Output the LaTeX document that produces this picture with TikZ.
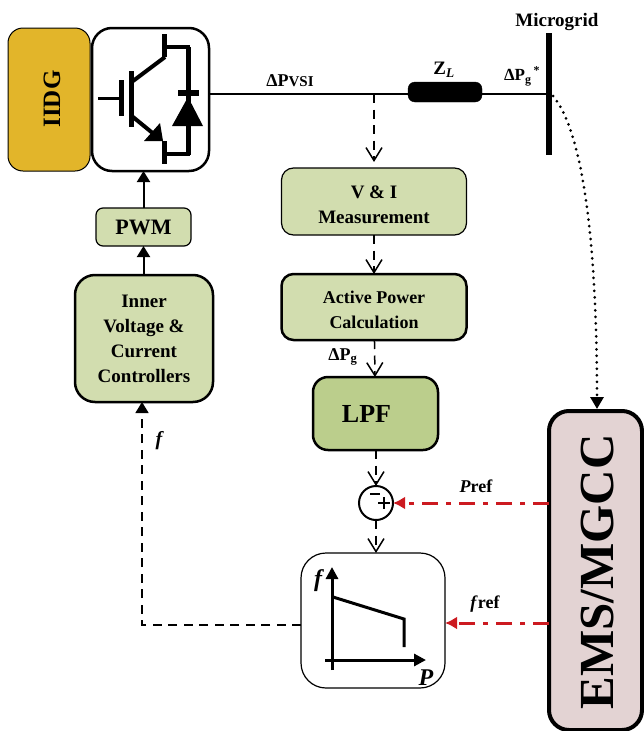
\documentclass[tikz,border=0pt]{standalone}
\usepackage{fontspec}
\setmainfont{Liberation Serif}
\usetikzlibrary{arrows.meta}
\tikzset{
  block/.style={draw,rounded corners=#1,inner sep=0,outer sep=0,align=center,font=\fontsize{19}{25}\selectfont\bfseries},
  block/.default=12,
  lab/.style={inner sep=0,font=\fontsize{18}{20}\selectfont\bfseries},
  dashline/.style={line width=1.5,dash pattern=on 9pt off 6.5pt,-{Straight Barb[length=13pt,width=16pt,line width=1.5pt]}},
  solidline/.style={line width=2,-{Stealth[length=11pt,width=13pt,inset=0pt]}},
  redline/.style={c3,line width=3,dash pattern=on 16pt off 8pt on 5pt off 8pt,-{Latex[length=12pt,width=13pt]}},
}
\begin{document}
\begin{tikzpicture}[x=1pt,y=-1pt]
    \definecolor{c1}{HTML}{D2DDAF}
    \definecolor{c2}{HTML}{BBCE8C}
    \definecolor{c3}{HTML}{CC1A20}
    \definecolor{c4}{HTML}{E3D3D3}
    \definecolor{c5}{HTML}{E2B52A}

    \useasboundingbox (0,0) rectangle (643,731);

    \node[block=15,line width=1,fill=c5,minimum width=82,minimum height=143] (iidg) at (49,99.5) {};
    \node[rotate=90,inner sep=0,font=\fontsize{25}{25}\selectfont\bfseries] (iidgtext) at (52,99) {IIDG};
    \node[block=20,line width=2.5,minimum width=117,minimum height=143] (inverter) at (150.5,99.5) {};

    %% switch
    \draw[line width=3] (98,98) -- (121,98);
    \draw[line width=5] (121,80) -- (121,116);
    \draw[line width=5] (131,71) -- (131,127);
    \draw[line width=4] (133,81) -- (165,57);
    \draw[line width=5] (164,34) -- (164,57);
    \draw[line width=4] (165,47) -- (190,47);
    \draw[line width=5] (188,47) -- (188,155);
    \draw[line width=6] (178,93) -- (199,93);
    \fill (188,97) -- (203,126) -- (172,126) -- cycle;
    \draw[line width=4] (165,154) -- (190,154);
    \draw[line width=5] (164,141) -- (164,164);
    \draw[line width=4] (133,117) -- (155,135);
    \fill (160,123) -- (163,141) -- (144,141) -- cycle;

    \node[block=7,fill=black,minimum width=74,minimum height=20] (zl) at (445,92) {};
    \node[fill=black,inner sep=0,minimum width=6,minimum height=122] (bus) at (549,94) {};
    \coordinate (tap) at (374,94);
    \coordinate (busdot) at (553,96);

    \node[lab,font=\fontsize{19}{20}\selectfont\bfseries] (microgrid) at (557,22) {Microgrid};
    \node[lab,font=\fontsize{19}{20}\selectfont\bfseries] (zlabel) at (444,70) {Z\textsubscript{\textit{L}}};
    \node[lab,font=\fontsize{17}{18}\selectfont\bfseries] (pgstar) at (522,76) {ΔP\textsubscript{g}\textsuperscript{\,*}};
    \node[lab] (pvsi) at (290,81) {ΔP{\fontsize{15}{15}\selectfont VSI}};

    \draw[line width=2] (inverter.east |- tap) -- (zl.west |- tap);
    \draw[line width=2] (zl.east |- bus) -- (bus);

    \node[block,line width=1.2,fill=c1,minimum width=185,minimum height=67] (vi) at (374,201.5) {\rule{0pt}{19pt}V \& I\\Measurement};
    \node[block,line width=2.5,fill=c1,minimum width=185,minimum height=66,font=\fontsize{18}{25}\selectfont\bfseries] (power) at (374,307) {\rule{0pt}{18pt}Active Power\\Calculation};
    \node[block=15,line width=2.5,fill=c2,minimum width=125,minimum height=73,font=\fontsize{26}{26}\selectfont\bfseries] (lpf) at (375.5,413.5) {LPF\hspace{18pt}};
    \node[draw,circle,line width=2,minimum size=34,inner sep=0,outer sep=0] (sum) at (376,503) {};
    \draw[line width=2.5] (370,494) -- (380,494);
    \draw[line width=2.5] (378,503) -- (390,503);
    \draw[line width=2.5] (384,497) -- (384,509);
    \node[block=25,line width=1.2,minimum width=144,minimum height=135] (droop) at (373,620.5) {};

    \node[block=20,line width=2.5,fill=c1,minimum width=138,minimum height=127] (inner) at (144,338.5) {Inner\\Voltage \&\\Current\\Controllers};
    \node[block=7,line width=1.2,fill=c1,minimum width=95,minimum height=38,font=\fontsize{22}{22}\selectfont\bfseries] (pwm) at (143.5,227) {PWM};
    \node[block=20,line width=4,fill=c4,minimum width=93,minimum height=319] (ems) at (595.5,570.5) {};
    \node[rotate=90,inner sep=0,font=\fontsize{49}{49}\selectfont\bfseries] (emstext) at (598,572) {EMS/MGCC};

    \draw[dashline] (tap) -- (374,162);
    \draw[dashline] (vi) -- (power);
    \draw[dashline] (power) -- (lpf);
    \draw[dashline] (lpf.south -| sum) -- (sum);
    \draw[dashline] (sum) -- (sum |- droop.north);

    \node[lab] (pg) at (343,357) {ΔP\textsubscript{g}};

    \draw[solidline] (inner.north -| pwm) -- (pwm);
    \draw[solidline] (pwm.north) -- (inverter.south -| pwm);
    \draw[line width=1.5,dash pattern=on 9pt off 6.5pt,-{Stealth[length=11pt,width=13pt,inset=0pt]}] (droop.west |- 0,625) -- (142,625) -- (142,402);
    \node[lab,font=\fontsize{20}{20}\selectfont\bfseries\itshape] (flabel) at (159,441) {f};

    \draw[redline] (ems.west |- sum) -- (sum);
    \draw[redline] (ems.west |- 0,623) -- (droop.east |- 0,623);
    \node[lab] (pref) at (476,486) {\textit{P}ref};
    \node[lab] (fref) at (485,604) {\textit{f}ref};

    %% droop curve
    \draw[line width=3,-{Stealth[length=12pt,width=12pt,inset=0pt]}] (332,670) -- (332,567);
    \draw[line width=3,-{Stealth[length=12pt,width=12pt,inset=0pt]}] (325,660) -- (426,660);
    \draw[line width=3] (333,597) -- (404,619) -- (404,647);
    \node[inner sep=0,font=\fontsize{24}{24}\selectfont\bfseries\itshape] (faxis) at (318,581) {f};
    \node[inner sep=0,font=\fontsize{24}{24}\selectfont\bfseries\itshape] (paxis) at (426,678) {P};

    \draw[line width=3,line cap=round,dash pattern=on 0pt off 6.5pt,-{Stealth[length=12pt,width=13pt,inset=0pt]}] (busdot) .. controls (590,140) and (597,290) .. (597,409);

\end{tikzpicture}
\end{document}
